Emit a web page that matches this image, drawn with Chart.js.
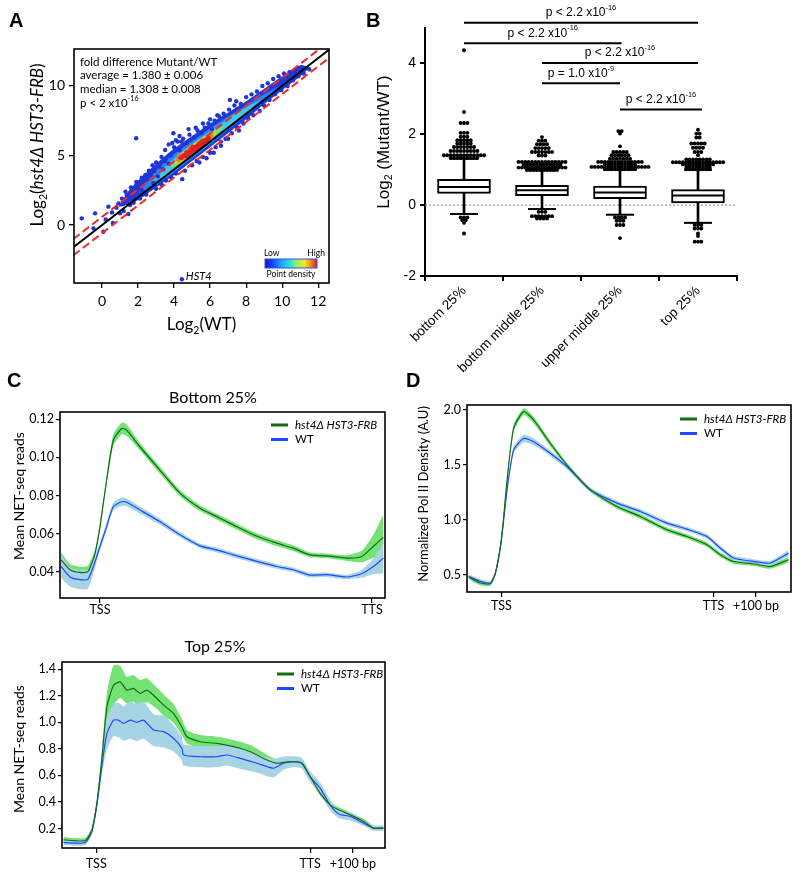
<!DOCTYPE html>
<html>
<head>
<meta charset="utf-8">
<script src="https://cdn.jsdelivr.net/npm/chart.js@4.4.1/dist/chart.umd.min.js"></script>
<style>
  html, body { margin: 0; padding: 0; background: #fff; }
  #fig { position: relative; width: 800px; height: 875px; overflow: hidden; }
  #fig canvas { position: absolute; }
  .lab { position: absolute; font: bold 20px "Liberation Sans", Arial, sans-serif; color: #000; }
</style>
</head>
<body>
<div id="fig">
  <canvas id="chartA" width="345" height="340" style="left:0;top:0"></canvas>
  <canvas id="chartB" width="440" height="375" style="left:360px;top:0"></canvas>
  <canvas id="chartC1" width="400" height="280" style="left:0;top:340px"></canvas>
  <canvas id="chartD" width="400" height="280" style="left:400px;top:340px"></canvas>
  <canvas id="chartC2" width="400" height="255" style="left:0;top:620px"></canvas>
  <div class="lab" style="left:9px;top:9px">A</div>
  <div class="lab" style="left:366px;top:9px">B</div>
  <div class="lab" style="left:7px;top:369px">C</div>
  <div class="lab" style="left:406px;top:369px">D</div>
</div>
<script>
const FONT = 'Lato, "Open Sans", sans-serif';
const HELV = '"Liberation Sans", Arial, sans-serif';
Chart.defaults.color = '#000';

// ---------- A: scatter, log2 expression ----------
const aTicksX = [0, 2, 4, 6, 8, 10, 12];
const aTicksY = [0, 5, 10];
const diagEnds = [-1.6, 12.6];
const foldLog2 = 0.585; // log2(1.5) guide lines

// density layers, outer to inner (x, lower edge, upper edge)
const blueX  = [0.9, 1.5, 2.0, 3.0, 4.0, 5.0, 6.0, 7.0, 8.0, 9.0, 10.0, 11.0, 11.5];
const blueLo = [1.3, 1.5, 1.8, 2.7, 3.6, 4.6, 5.6, 6.6, 7.6, 8.7, 9.7, 10.7, 11.3];
const blueHi = [1.3, 2.5, 3.2, 4.4, 5.5, 6.4, 7.3, 8.1, 8.9, 9.8, 10.7, 11.5, 11.3];
const azureX  = [2.0, 3.0, 4.0, 5.0, 6.0, 7.0, 8.0, 9.0, 9.8];
const azureLo = [2.3, 2.9, 3.8, 4.8, 5.8, 6.85, 7.9, 9.0, 10.0];
const azureHi = [2.3, 3.9, 5.1, 6.05, 6.95, 7.8, 8.6, 9.4, 10.0];
const cyanX  = [2.8, 3.5, 4.5, 5.5, 6.5, 7.5, 8.8];
const cyanLo = [3.15, 3.5, 4.45, 5.45, 6.5, 7.55, 9.0];
const cyanHi = [3.15, 4.2, 5.35, 6.3, 7.2, 8.1, 9.0];
const greenX  = [3.8, 4.4, 5.2, 6.0, 6.8];
const greenLo = [4.15, 4.45, 5.25, 6.05, 7.15];
const greenHi = [4.15, 5.15, 5.95, 6.65, 7.15];
const yellowX  = [4.0, 4.6, 5.4, 6.3];
const yellowLo = [4.4, 4.75, 5.5, 6.6];
const yellowHi = [4.4, 5.3, 6.1, 6.6];

const aBlueDots = [
  [-1.13,0.48],[-0.39,0.84],[-0.48,-0.24],[0.07,-0.48],[0.2,0.4],[0.35,1.32],[0.55,0.9],[0.6,0.15],
  [0.8,1.25],[0.91,1.56],[1.0,0.84],[1.15,1.5],[1.2,1.0],[1.37,2.16],[1.46,0.79],[1.56,1.44],[1.1,1.9],
  [1.6,2.2],[1.75,1.6],[1.85,2.6],[1.89,6.24],[2.0,2.9],[2.1,1.9],[2.2,2.5],[2.3,3.1],[2.45,2.2],
  [2.5,3.3],[2.65,2.6],[2.7,3.6],[2.85,3.0],[2.9,3.9],[3.0,2.6],[3.1,3.5],[3.2,4.2],[3.3,2.9],[3.4,4.0],
  [3.5,4.6],[3.55,3.2],[3.7,4.4],[3.8,5.0],[3.85,3.4],[3.96,6.6],[4.0,5.6],[4.1,3.7],[4.2,6.0],[4.3,5.4],
  [4.45,3.3],[4.5,6.2],[4.6,3.9],[4.7,5.9],[4.85,6.5],[5.0,4.3],[5.1,6.3],[5.25,4.6],[5.3,6.8],[5.5,6.6],
  [5.6,4.9],[5.7,7.0],[5.9,7.3],[6.0,5.2],[6.1,6.9],[6.25,7.5],[6.3,5.6],[6.5,7.8],[6.6,6.0],[6.75,8.0],
  [6.85,6.2],[7.05,8.3],[7.1,9.0],[7.2,6.6],[7.35,8.6],[7.45,8.9],[7.5,7.0],[7.7,8.7],[7.85,7.3],[8.0,9.2],
  [8.1,7.7],[8.3,9.4],[8.4,7.9],[8.6,9.6],[8.75,8.2],[8.9,10.0],[9.0,8.6],[9.2,10.2],[9.3,9.0],[9.5,10.5],
  [9.6,9.4],[9.8,10.7],[9.95,9.7],[10.1,10.9],[10.3,10.0],[10.4,11.0],[10.6,10.4],[10.7,11.1],[10.9,10.7],
  [11.0,11.2],[11.2,10.9],[11.3,11.3],[11.5,11.2],
  [3.5,5.4],[3.7,5.8],[3.9,5.9],[4.1,6.1],[4.3,6.4],[4.4,6.0],[3.3,4.9],[3.0,4.5],[2.8,4.3],[2.6,3.9],
  [2.4,3.6],[4.8,6.9],[5.2,7.0],[5.6,7.3],[6.0,7.6],[6.4,7.9],[5.8,4.8],[6.2,5.2],[6.6,5.7],[5.4,4.5],
  [7.0,6.2],[7.6,6.8],[2.2,3.4],[1.9,3.1],[1.6,2.7],[1.3,2.4]
];
const aOrangeDots = [[4.25,4.7],[4.3,4.95],[6.0,6.3],[6.05,6.45],[5.95,6.4],[4.95,5.6],[5.55,5.95],[4.6,4.85]];
const aRedDots = [[4.4,4.85],[4.55,5.0],[4.7,5.2],[4.8,5.05],[4.9,5.4],[5.0,5.25],[5.1,5.55],[5.2,5.45],[5.3,5.7],
  [5.4,5.6],[5.5,5.85],[5.6,5.8],[5.7,6.05],[5.8,6.1],[5.9,6.25],[5.05,5.6],[4.65,5.0],[5.35,5.5]];
const hst4Point = [4.43, -3.9];
const aStats = ['fold difference Mutant/WT', 'average = 1.380 \u00b1 0.006', 'median = 1.308 \u00b1 0.008'];

// ---------- B: box plots ----------
const bCats = ['bottom 25%', 'bottom middle 25%', 'upper middle 25%', 'top 25%'];
const bTicksY = [-2, 0, 2, 4];
const bQ1  = [0.33, 0.27, 0.18, 0.06];
const bMed = [0.51, 0.42, 0.36, 0.27];
const bQ3  = [0.73, 0.56, 0.54, 0.44];
const bWLo = [-0.25, -0.11, -0.27, -0.50];
const bWHi = [1.31, 0.98, 1.00, 1.00];
// outliers as [value, number of dots at that value]
const bOut1 = [[4.37,1],[2.63,1],[2.32,3],[2.04,3],[1.93,3],[1.83,5],[1.74,5],[1.64,7],[1.53,9],[1.41,13],[1.33,9],[-0.35,3],[-0.43,2],[-0.5,1],[-0.8,1]];
const bOut2 = [[1.92,1],[1.82,3],[1.72,4],[1.61,5],[1.5,7],[1.4,3],[1.22,15],[1.14,12],[1.06,15],[0.99,10],[-0.19,3],[-0.31,7],[-0.38,4]];
const bOut3 = [[2.09,2],[2.02,1],[1.66,1],[1.5,5],[1.41,6],[1.31,7],[1.22,14],[1.15,10],[1.08,18],[1.01,10],[-0.35,4],[-0.44,3],[-0.56,3],[-0.93,1]];
const bOut4 = [[2.13,1],[2.02,2],[1.91,2],[1.74,5],[1.62,4],[1.5,3],[1.41,1],[1.29,8],[1.21,16],[1.15,10],[1.08,8],[1.01,8],[-0.56,3],[-0.66,3],[-0.8,1],[-0.87,1],[-1.03,3]];
const sigFrom = [1, 1, 2, 2, 3];
const sigTo   = [4, 3.02, 4, 3, 4.05];
const sigY    = [5.15, 4.57, 4.01, 3.44, 2.70];
const sigText = ['p < 2.2 x10', 'p < 2.2 x10', 'p < 2.2 x10', 'p = 1.0 x10', 'p < 2.2 x10'];
const sigExp  = ['-16', '-16', '-16', '-9', '-16'];

// ---------- C: NET-seq metagene, bottom 25% ----------
const c1X = [-14.3, -11, -7.4, -4.4, -1.8, 0, 2.45, 4.9, 8, 9.8, 14.7, 22, 29.4, 36.8, 42.9, 49, 56.4, 65, 71, 77.2, 83.3, 90.7, 96.2, 100.5, 104.2];
const c1Mut = [0.0464, 0.0412, 0.0398, 0.0403, 0.0499, 0.0638, 0.0882, 0.109, 0.1152, 0.1143, 0.1056, 0.0934, 0.0813, 0.0734, 0.069, 0.0647, 0.0595, 0.0551, 0.0525, 0.049, 0.0485, 0.0473, 0.0481, 0.0534, 0.0583];
const c1MutErr = [0.004, 0.003, 0.003, 0.003, 0.002, 0.002, 0.002, 0.003, 0.003, 0.003, 0.002, 0.0018, 0.0016, 0.0015, 0.0015, 0.0015, 0.0015, 0.0015, 0.0015, 0.0012, 0.0012, 0.0015, 0.003, 0.006, 0.012];
const c1WT = [0.0429, 0.0374, 0.036, 0.0363, 0.0455, 0.0534, 0.0638, 0.0743, 0.0768, 0.0765, 0.0725, 0.0664, 0.0595, 0.0537, 0.0516, 0.049, 0.0461, 0.0429, 0.0412, 0.0384, 0.0386, 0.0374, 0.0391, 0.0429, 0.0473];
const c1WTErr = [0.006, 0.005, 0.005, 0.005, 0.003, 0.002, 0.002, 0.002, 0.0022, 0.002, 0.0018, 0.0015, 0.0013, 0.0012, 0.0012, 0.0012, 0.0012, 0.0012, 0.0012, 0.0012, 0.0012, 0.0012, 0.002, 0.004, 0.008];

// ---------- C: NET-seq metagene, top 25% ----------
const c2X = [-15.3, -10.6, -5, -2, 0.3, 2.6, 5, 8.1, 11.2, 14.3, 17.4, 20.6, 23.7, 28.4, 31.5, 36.1, 40, 42.4, 48.6, 56.4, 64.2, 72, 79.8, 84.4, 90.7, 96.2, 100, 104.7, 109.3, 113.3, 118.8, 125, 129.6, 134.3];
const c2Mut = [0.115, 0.108, 0.11, 0.19, 0.391, 0.716, 1.117, 1.28, 1.305, 1.243, 1.256, 1.218, 1.243, 1.18, 1.13, 1.068, 0.967, 0.892, 0.854, 0.842, 0.817, 0.779, 0.716, 0.692, 0.704, 0.692, 0.591, 0.466, 0.378, 0.341, 0.303, 0.253, 0.203, 0.203];
const c2MutErr = [0.02, 0.02, 0.02, 0.02, 0.03, 0.06, 0.1, 0.15, 0.12, 0.1, 0.1, 0.1, 0.09, 0.08, 0.08, 0.07, 0.06, 0.05, 0.05, 0.05, 0.05, 0.05, 0.04, 0.03, 0.03, 0.02, 0.02, 0.02, 0.02, 0.02, 0.02, 0.02, 0.02, 0.02];
const c2WTX = [-15.3, -10.6, -5.1, -2.0, 0.3, 2.6, 5.0, 8.1, 10.4, 12.8, 15.9, 19.0, 22.1, 26.8, 31.5, 36.1, 40.0, 40.8, 48.6, 56.4, 61.0, 67.3, 75.1, 82.9, 87.5, 92.2, 96.1, 100, 104.7, 109.3, 113.3, 118.8, 125, 129.6, 134.3];
const c2WT = [0.095, 0.09, 0.095, 0.177, 0.378, 0.666, 0.917, 1.017, 1.017, 0.992, 1.017, 1.0, 1.017, 0.942, 0.93, 0.88, 0.805, 0.754, 0.741, 0.741, 0.754, 0.729, 0.692, 0.654, 0.692, 0.704, 0.692, 0.591, 0.504, 0.378, 0.31, 0.29, 0.24, 0.203, 0.203];
const c2WTErr = [0.02, 0.02, 0.02, 0.02, 0.03, 0.06, 0.12, 0.12, 0.13, 0.13, 0.14, 0.14, 0.14, 0.12, 0.12, 0.1, 0.09, 0.08, 0.08, 0.08, 0.08, 0.08, 0.07, 0.07, 0.05, 0.04, 0.04, 0.04, 0.04, 0.04, 0.03, 0.03, 0.02, 0.02, 0.02];

// ---------- D: Pol II density ----------
const dX = [-15.4, -9.9, -5.2, -2.8, 0, 2.7, 5.8, 10.5, 15.2, 23, 30.9, 41.9, 54.5, 65.5, 78, 87.5, 96.9, 103.2, 109.4, 118.9, 126.7, 135.3];
const dMut = [0.479, 0.4245, 0.418, 0.515, 0.818, 1.364, 1.834, 1.985, 1.909, 1.697, 1.5, 1.273, 1.121, 1.03, 0.909, 0.848, 0.773, 0.682, 0.621, 0.6, 0.575, 0.636];
const dMutErr = [0.02, 0.02, 0.02, 0.02, 0.02, 0.025, 0.03, 0.03, 0.03, 0.025, 0.02, 0.02, 0.02, 0.02, 0.02, 0.02, 0.02, 0.02, 0.02, 0.02, 0.02, 0.025];
const dWT = [0.485, 0.44, 0.424, 0.515, 0.818, 1.273, 1.636, 1.74, 1.71, 1.606, 1.485, 1.273, 1.152, 1.076, 0.97, 0.915, 0.848, 0.742, 0.652, 0.621, 0.606, 0.697];
const dWTErr = [0.02, 0.02, 0.02, 0.02, 0.02, 0.025, 0.03, 0.035, 0.03, 0.025, 0.025, 0.02, 0.02, 0.02, 0.02, 0.02, 0.02, 0.02, 0.02, 0.02, 0.02, 0.025];

const MUT_LINE = '#136b13';
const WT_LINE = '#1f48ff';
const MUT_BAND = '#74e274';
const WT_BAND = '#a6d4e4';

const pts = (xs, ys) => xs.map((x, i) => ({ x: x, y: ys[i] }));
const pairs = arr => arr.map(p => ({ x: p[0], y: p[1] }));
const shift = (ys, es, s) => ys.map((y, i) => y + s * es[i]);

function rich(ctx, parts, x, y, size, family, align, rot) {
  ctx.save();
  ctx.translate(x, y);
  if (rot) ctx.rotate(rot);
  ctx.textBaseline = 'middle';
  ctx.textAlign = 'left';
  ctx.fillStyle = '#000';
  const fontOf = p => (p.it ? 'italic ' : '') + ((p.sub || p.sup) ? size * 0.62 : size) + 'px ' + family;
  let total = 0;
  const ws = parts.map(p => { ctx.font = fontOf(p); const w = ctx.measureText(p.t).width; total += w; return w; });
  let cx = align === 'center' ? -total / 2 : align === 'right' ? -total : 0;
  parts.forEach((p, i) => {
    ctx.font = fontOf(p);
    const dy = p.sub ? size * 0.32 : p.sup ? -size * 0.4 : 0;
    ctx.fillText(p.t, cx, dy);
    cx += ws[i];
  });
  ctx.restore();
}

function frame(chart, lw) {
  const a = chart.chartArea, ctx = chart.ctx;
  ctx.save();
  ctx.strokeStyle = '#000';
  ctx.lineWidth = lw;
  ctx.strokeRect(a.left, a.top, a.right - a.left, a.bottom - a.top);
  ctx.restore();
}

function fixedAxis(size, horizontal) {
  return s => {
    if (horizontal) s.height = size; else s.width = size;
    s.paddingLeft = s.paddingRight = s.paddingTop = s.paddingBottom = 0;
  };
}

function bandPair(xs, lo, hi, color, tension) {
  return [
    { type: 'line', data: pts(xs, hi), showLine: true, fill: '+1', backgroundColor: color,
      borderColor: 'transparent', borderWidth: 0, pointRadius: 0, tension: tension },
    { type: 'line', data: pts(xs, lo), showLine: true, fill: false,
      borderColor: 'transparent', borderWidth: 0, pointRadius: 0, tension: tension }
  ];
}

// ================= Panel A =================
new Chart(document.getElementById('chartA'), {
  type: 'scatter',
  data: {
    datasets: [
      { type: 'line', data: pts(diagEnds, diagEnds), borderColor: '#000', borderWidth: 2, pointRadius: 0, showLine: true, fill: false },
      { type: 'line', data: pts(diagEnds, diagEnds.map(v => v + foldLog2)), borderColor: '#ee2a2a', borderWidth: 2, borderDash: [8, 4], pointRadius: 0, showLine: true, fill: false },
      { type: 'line', data: pts(diagEnds, diagEnds.map(v => v - foldLog2)), borderColor: '#ee2a2a', borderWidth: 2, borderDash: [8, 4], pointRadius: 0, showLine: true, fill: false },
      { data: pairs(aRedDots), backgroundColor: '#dd2020', borderWidth: 0, pointRadius: 2.6 },
      { data: pairs(aOrangeDots), backgroundColor: '#f08a20', borderWidth: 0, pointRadius: 2.6 },
      { data: pairs(aBlueDots.concat([hst4Point])), backgroundColor: '#1f34d8', borderWidth: 0, pointRadius: 2.2 },
      ...bandPair(yellowX, yellowLo, yellowHi, '#f0e22c', 0.3),
      ...bandPair(greenX, greenLo, greenHi, '#92e04c', 0.3),
      ...bandPair(cyanX, cyanLo, cyanHi, '#3ccbe8', 0.3),
      ...bandPair(azureX, azureLo, azureHi, '#2488f2', 0.3),
      ...bandPair(blueX, blueLo, blueHi, '#2238da', 0.3)
    ]
  },
  options: {
    responsive: false,
    animation: false,
    layout: { padding: { top: 49, right: 16, left: 0, bottom: 0 } },
    plugins: { legend: { display: false }, tooltip: { enabled: false } },
    scales: {
      x: {
        type: 'linear', min: -1.56, max: 12.6,
        afterBuildTicks: s => { s.ticks = aTicksX.map(v => ({ value: v })); },
        afterFit: fixedAxis(57, true),
        ticks: { font: { family: FONT, size: 14 }, color: '#000', padding: 5, maxRotation: 0 },
        grid: { drawOnChartArea: false, tickLength: 5, color: '#000', lineWidth: 1.3 },
        border: { display: false }
      },
      y: {
        type: 'linear', min: -4.17, max: 12.66,
        afterBuildTicks: s => { s.ticks = aTicksY.map(v => ({ value: v })); },
        afterFit: fixedAxis(74, false),
        ticks: { font: { family: FONT, size: 14 }, color: '#000', padding: 4 },
        grid: { drawOnChartArea: false, tickLength: 5, color: '#000', lineWidth: 1.3 },
        border: { display: false }
      }
    }
  },
  plugins: [{
    id: 'decoA',
    afterDraw(chart) {
      const ctx = chart.ctx, a = chart.chartArea;
      const xs = chart.scales.x, ys = chart.scales.y;
      frame(chart, 1.6);
      ctx.save();
      ctx.fillStyle = '#000';
      ctx.textBaseline = 'middle';
      ctx.font = '11.5px ' + FONT;
      aStats.forEach((t, i) => ctx.fillText(t, a.left + 6, a.top + 13 + i * 13.7));
      ctx.restore();
      rich(ctx, [{ t: 'p < 2 x10' }, { t: '-16', sup: 1 }], a.left + 6, a.top + 54, 11.5, FONT, 'left');
      // HST4 label
      rich(ctx, [{ t: 'HST4', it: 1 }], xs.getPixelForValue(hst4Point[0]) + 4, ys.getPixelForValue(hst4Point[1]) - 3, 11, FONT, 'left');
      // density colour bar
      const bx = 265, by = 259, bw = 52, bh = 9;
      const g = ctx.createLinearGradient(bx, 0, bx + bw, 0);
      [['#1414b4', 0], ['#1048ff', 0.15], ['#20a8ff', 0.33], ['#30e0d8', 0.48], ['#9cf060', 0.62], ['#f2e824', 0.76], ['#f08a20', 0.88], ['#cc1c1c', 1]]
        .forEach(s => g.addColorStop(s[1], s[0]));
      ctx.save();
      ctx.fillStyle = g;
      ctx.fillRect(bx, by, bw, bh);
      ctx.strokeStyle = '#3a4ee0';
      ctx.lineWidth = 1;
      ctx.strokeRect(bx, by, bw, bh);
      ctx.restore();
      rich(ctx, [{ t: 'Low' }], bx - 1, by - 6, 8.5, FONT, 'left');
      rich(ctx, [{ t: 'High' }], bx + bw + 8, by - 6, 8.5, FONT, 'right');
      rich(ctx, [{ t: 'Point density' }], bx + bw / 2, by + bh + 6, 8.5, FONT, 'center');
      // axis titles
      rich(ctx, [{ t: 'Log' }, { t: '2', sub: 1 }, { t: '(' }, { t: 'hst4\u0394 HST3-FRB', it: 1 }, { t: ')' }], 38, 145, 17, FONT, 'center', -Math.PI / 2);
      rich(ctx, [{ t: 'Log' }, { t: '2', sub: 1 }, { t: '(WT)' }], (a.left + a.right) / 2, 325, 17, FONT, 'center');
    }
  }]
});

// ================= Panel B =================
function swarm(cat, rows) {
  const out = [];
  rows.forEach(r => {
    for (let k = 0; k < r[1]; k++) out.push({ x: cat + (k - (r[1] - 1) / 2) * 0.043, y: r[0] });
  });
  return out;
}
const bOutliers = [bOut1, bOut2, bOut3, bOut4].map((rows, i) => swarm(i + 1, rows)).flat();
const bIdx = bCats.map((c, i) => i + 1);

new Chart(document.getElementById('chartB'), {
  type: 'scatter',
  data: {
    datasets: [
      { data: pts(bIdx, bMed), pointStyle: 'line', pointRadius: 25.5, borderColor: '#000', borderWidth: 2, backgroundColor: '#000' },
      { data: pts(bIdx, bWHi).concat(pts(bIdx, bWLo)), pointStyle: 'line', pointRadius: 14, borderColor: '#000', borderWidth: 2, backgroundColor: '#000' },
      { type: 'bar', data: bIdx.map((x, i) => ({ x: x, y: [bQ1[i], bQ3[i]] })), backgroundColor: '#fff', borderColor: '#000',
        borderWidth: 2, borderSkipped: false, barThickness: 53, grouped: false },
      { type: 'bar', data: bIdx.map((x, i) => ({ x: x, y: [bWLo[i], bWHi[i]] })), backgroundColor: '#000', borderWidth: 0,
        barThickness: 2, grouped: false },
      { data: bOutliers, backgroundColor: '#000', borderWidth: 0, pointRadius: 1.95 },
      { type: 'line', data: [{ x: 0.5, y: 0 }, { x: 4.5, y: 0 }], borderColor: '#8a8a8a', borderWidth: 1, borderDash: [2, 2], pointRadius: 0, showLine: true }
    ]
  },
  options: {
    responsive: false,
    animation: false,
    layout: { padding: { top: 28, right: 63, left: 0, bottom: 0 } },
    plugins: { legend: { display: false }, tooltip: { enabled: false } },
    scales: {
      x: {
        type: 'linear', min: 0.5, max: 4.5, offset: false,
        afterBuildTicks: s => { s.ticks = bIdx.map(v => ({ value: v })); },
        afterFit: fixedAxis(99, true),
        ticks: { callback: v => bCats[v - 1], font: { family: HELV, size: 13.5 }, color: '#000', padding: 2, minRotation: 45, maxRotation: 45, autoSkip: false },
        grid: { drawOnChartArea: false, tickLength: 5, color: '#000', lineWidth: 2 },
        border: { display: true, color: '#000', width: 2 }
      },
      y: {
        type: 'linear', min: -2, max: 5,
        afterBuildTicks: s => { s.ticks = bTicksY.map(v => ({ value: v })); },
        afterFit: fixedAxis(65, false),
        ticks: { font: { family: HELV, size: 14 }, color: '#000', padding: 4 },
        grid: { drawOnChartArea: false, tickLength: 5, color: '#000', lineWidth: 2 },
        border: { display: true, color: '#000', width: 2 }
      }
    }
  },
  plugins: [{
    id: 'decoB',
    afterDraw(chart) {
      const ctx = chart.ctx, xs = chart.scales.x, ys = chart.scales.y;
      ctx.save();
      ctx.strokeStyle = '#000';
      ctx.lineWidth = 2;
      sigY.forEach((v, i) => {
        const x1 = xs.getPixelForValue(sigFrom[i]), x2 = xs.getPixelForValue(sigTo[i]), y = ys.getPixelForValue(v);
        ctx.beginPath(); ctx.moveTo(x1, y); ctx.lineTo(x2, y); ctx.stroke();
        rich(ctx, [{ t: sigText[i] }, { t: sigExp[i], sup: 1 }], (x1 + x2) / 2, y - 10, 12, HELV, 'center');
      });
      ctx.restore();
      rich(ctx, [{ t: 'Log' }, { t: '2', sub: 1 }, { t: ' (Mutant/WT)' }], 24, 142, 17, HELV, 'center', -Math.PI / 2);
    }
  }]
});

// ================= Panels C and D =================
function profile(id, cfg) {
  return new Chart(document.getElementById(id), {
    type: 'line',
    data: {
      datasets: [
        { data: pts(cfg.mutX, cfg.mut), borderColor: MUT_LINE, borderWidth: 1.2, pointRadius: 0, fill: false, tension: 0.2 },
        { data: pts(cfg.wtX, cfg.wt), borderColor: WT_LINE, borderWidth: 1.2, pointRadius: 0, fill: false, tension: 0.2 },
        ...bandPair(cfg.wtX, shift(cfg.wt, cfg.wtErr, -1), shift(cfg.wt, cfg.wtErr, 1), WT_BAND, 0.2),
        ...bandPair(cfg.mutX, shift(cfg.mut, cfg.mutErr, -1), shift(cfg.mut, cfg.mutErr, 1), MUT_BAND, 0.2)
      ]
    },
    options: {
      responsive: false,
      animation: false,
      layout: { padding: { top: cfg.padTop, right: cfg.padRight, left: 0, bottom: 0 } },
      plugins: { legend: { display: false }, tooltip: { enabled: false } },
      scales: {
        x: {
          type: 'linear', min: cfg.xMin, max: cfg.xMax,
          afterBuildTicks: s => { s.ticks = cfg.xTicks.map(v => ({ value: v })); },
          afterFit: fixedAxis(cfg.xH, true),
          ticks: { callback: v => cfg.xLabels[cfg.xTicks.indexOf(v)], font: { family: FONT, size: 12.5 }, color: '#000', padding: cfg.xPad, maxRotation: 0, autoSkip: false },
          grid: { drawOnChartArea: false, tickLength: 5, color: '#000', lineWidth: 1.2 },
          border: { display: false }
        },
        y: {
          type: 'linear', min: cfg.yMin, max: cfg.yMax,
          afterBuildTicks: s => { s.ticks = cfg.yTicks.map(v => ({ value: v })); },
          afterFit: fixedAxis(cfg.yW, false),
          ticks: { callback: v => v.toFixed(cfg.yDec), font: { family: FONT, size: 12.5 }, color: '#000', padding: 2 },
          grid: { drawOnChartArea: false, tickLength: 4, color: '#000', lineWidth: 1.2 },
          border: { display: false }
        }
      }
    },
    plugins: [{
      id: 'deco' + id,
      afterDraw(chart) {
        const ctx = chart.ctx;
        frame(chart, 1.6);
        if (cfg.title) rich(ctx, [{ t: cfg.title }], cfg.titleX, cfg.titleY, 16, FONT, 'center');
        rich(ctx, cfg.yTitle, cfg.yTitleX, cfg.yTitleY, cfg.yTitleSize, FONT, 'center', -Math.PI / 2);
        ctx.save();
        ctx.lineWidth = 3;
        [[MUT_LINE, cfg.legY], [WT_LINE, cfg.legY + 14.5]].forEach(l => {
          ctx.strokeStyle = l[0];
          ctx.beginPath(); ctx.moveTo(cfg.legX, l[1]); ctx.lineTo(cfg.legX + 17, l[1]); ctx.stroke();
        });
        ctx.restore();
        rich(ctx, [{ t: 'hst4\u0394 HST3-FRB', it: 1 }], cfg.legX + 24, cfg.legY, 11.5, FONT, 'left');
        rich(ctx, [{ t: 'WT' }], cfg.legX + 24, cfg.legY + 14.5, 11.5, FONT, 'left');
      }
    }]
  });
}

const netTitle = [{ t: 'Mean NET-seq reads' }];

profile('chartC1', {
  mutX: c1X, mut: c1Mut, mutErr: c1MutErr, wtX: c1X, wt: c1WT, wtErr: c1WTErr,
  xMin: -14.7, xMax: 104.8, yMin: 0.0264, yMax: 0.1238,
  xTicks: [0, 100], xLabels: ['TSS', 'TTS'], yTicks: [0.04, 0.06, 0.08, 0.10, 0.12], yDec: 2,
  padTop: 72, padRight: 15, yW: 60, xH: 22, xPad: -1,
  title: 'Bottom 25%', titleX: 213, titleY: 58,
  yTitle: netTitle, yTitleX: 19, yTitleY: 156, yTitleSize: 14,
  legX: 271, legY: 85
});

profile('chartD', {
  mutX: dX, mut: dMut, mutErr: dMutErr, wtX: dX, wt: dWT, wtErr: dWTErr,
  xMin: -16.2, xMax: 136.5, yMin: 0.343, yMax: 2.045,
  xTicks: [0, 100, 120], xLabels: ['TSS', 'TTS', '+100 bp'], yTicks: [0.5, 1.0, 1.5, 2.0], yDec: 1,
  padTop: 65, padRight: 9, yW: 67, xH: 28, xPad: 1,
  title: null,
  yTitle: [{ t: 'Normalized Pol II Density (A.U)' }], yTitleX: 24, yTitleY: 154, yTitleSize: 13,
  legX: 280, legY: 79
});

profile('chartC2', {
  mutX: c2X, mut: c2Mut, mutErr: c2MutErr, wtX: c2WTX, wt: c2WT, wtErr: c2WTErr,
  xMin: -16, xMax: 135, yMin: 0.053, yMax: 1.455,
  xTicks: [0, 100, 120], xLabels: ['TSS', 'TTS', '+100 bp'], yTicks: [0.2, 0.4, 0.6, 0.8, 1.0, 1.2, 1.4], yDec: 1,
  padTop: 42, padRight: 15, yW: 62, xH: 27, xPad: 3,
  title: 'Top 25%', titleX: 215, titleY: 27,
  yTitle: netTitle, yTitleX: 19, yTitleY: 129, yTitleSize: 14,
  legX: 277, legY: 54
});
</script>
</body>
</html>
